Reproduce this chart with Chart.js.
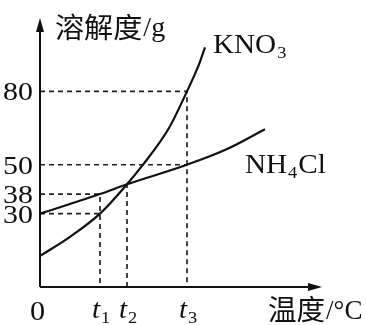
<!DOCTYPE html>
<html>
<head>
<meta charset="utf-8">
<script src="https://cdn.jsdelivr.net/npm/chart.js@4.4.0/dist/chart.umd.min.js"></script>
<style>
  html, body { margin: 0; padding: 0; background: #fff; }
  #wrap { width: 366px; height: 325px; position: relative; }
</style>
</head>
<body>
<div id="wrap"><canvas id="solChart"></canvas></div>
<script>
// temperature ticks (x) and their labels
const tempTicks = [0, 20, 29, 49];
const tempLabels = ['0', 't1', 't2', 't3'];
// solubility ticks (y)
const solTicks = [30, 38, 50, 80];

// KNO3 curve
const kno3Temp = [0, 10, 20, 29, 34, 43, 49, 53, 55];
const kno3Sol = [12.7, 20.5, 30, 42, 49.5, 65, 80, 91, 98];

// NH4Cl curve
const nh4clTemp = [0, 20, 29, 49, 62, 75];
const nh4clSol = [30, 38, 42, 50, 56.2, 64.5];

// where the two curves cross at t2
const crossSol = 42;

const toPts = (xs, ys) => xs.map((x, i) => ({ x: x, y: ys[i] }));

const t1 = tempTicks[1], t2 = tempTicks[2], t3 = tempTicks[3];

// dashed guide lines
const guides = [
    [{ x: 0, y: solTicks[3] }, { x: t3, y: solTicks[3] }, { x: t3, y: 0 }],
    [{ x: 0, y: solTicks[2] }, { x: t3, y: solTicks[2] }],
    [{ x: 0, y: solTicks[1] }, { x: t1, y: solTicks[1] }, { x: t1, y: 0 }],
    [{ x: 0, y: solTicks[0] }, { x: t1, y: solTicks[0] }],
    [{ x: t2, y: 0 }, { x: t2, y: crossSol }]
];

const SERIF = '"Liberation Serif", "Times New Roman", serif';
const CJK = '"Noto Sans CJK SC", sans-serif';

// text stretched a little sideways, like the scanned figure
function wideText(ctx, txt, x, y, sx) {
    ctx.save();
    ctx.translate(x, y);
    ctx.scale(sx, 1);
    ctx.fillText(txt, 0, 0);
    ctx.restore();
    return ctx.measureText(txt).width * sx;
}

function subText(ctx, x, base, main, sub, size, italic) {
    ctx.font = (italic ? 'italic ' : '') + size + 'px ' + SERIF;
    const w = wideText(ctx, main, x, base, 1.08);
    ctx.font = Math.round(size * 0.62) + 'px ' + SERIF;
    return x + w + 1 + wideText(ctx, sub, x + w + 1, base + size * 0.18, 1.08);
}

// axes with arrows and all the text
const decor = {
    id: 'decor',
    afterDraw(chart) {
        const ctx = chart.ctx;
        const xs = chart.scales.x, ys = chart.scales.y;
        const x0 = xs.getPixelForValue(0), y0 = ys.getPixelForValue(0);
        const top = chart.chartArea.top, right = chart.chartArea.right;
        ctx.save();
        ctx.strokeStyle = '#111';
        ctx.fillStyle = '#111';
        ctx.lineWidth = 2;
        ctx.beginPath();
        ctx.moveTo(x0, y0); ctx.lineTo(x0, top + 6);
        ctx.moveTo(x0, y0); ctx.lineTo(right - 6, y0);
        ctx.stroke();
        ctx.beginPath();
        ctx.moveTo(x0, top); ctx.lineTo(x0 - 4, top + 14); ctx.lineTo(x0 + 4, top + 14);
        ctx.closePath(); ctx.fill();
        ctx.beginPath();
        ctx.moveTo(right, y0); ctx.lineTo(right - 14, y0 - 4); ctx.lineTo(right - 14, y0 + 4);
        ctx.closePath(); ctx.fill();

        // y tick labels
        ctx.font = '26px ' + SERIF;
        ctx.textAlign = 'left';
        ctx.textBaseline = 'alphabetic';
        solTicks.forEach(v => wideText(ctx, String(v), 3, ys.getPixelForValue(v) + 9, 1.15));

        // x tick labels
        tempTicks.forEach((v, i) => {
            const px = xs.getPixelForValue(v);
            const lab = tempLabels[i];
            if (lab.length === 1) {
                ctx.font = '27px ' + SERIF;
                wideText(ctx, lab, px - 10, 320, 1.12);
            } else {
                subText(ctx, px - 8, 318, lab[0], lab.slice(1), 27, true);
            }
        });

        // axis titles
        ctx.font = '28px ' + CJK;
        ctx.textBaseline = 'middle';
        let w = wideText(ctx, '溶解度', 55, 27, 1.04);
        ctx.textBaseline = 'alphabetic';
        ctx.font = '28px ' + SERIF;
        ctx.fillText('/g', 55 + w + 1, 36);

        ctx.font = '28px ' + CJK;
        ctx.textBaseline = 'middle';
        w = wideText(ctx, '温度', 268, 309, 1.02);
        ctx.textBaseline = 'alphabetic';
        ctx.font = '27px ' + SERIF;
        ctx.fillText('/°C', 268 + w + 1, 319);

        // series names
        subText(ctx, 213, 53, 'KNO', '3', 27, false);
        const nx = subText(ctx, 245, 173, 'NH', '4', 27, false);
        ctx.font = '27px ' + SERIF;
        wideText(ctx, 'Cl', nx + 1, 173, 1.08);
        ctx.restore();
    }
};

const curveStyle = {
    showLine: true, pointRadius: 0, borderColor: '#111', borderWidth: 2.2,
    cubicInterpolationMode: 'monotone', fill: false
};

const datasets = [
    Object.assign({ label: 'KNO3', data: toPts(kno3Temp, kno3Sol) }, curveStyle),
    Object.assign({ label: 'NH4Cl', data: toPts(nh4clTemp, nh4clSol) }, curveStyle)
];
guides.forEach((g, i) => datasets.push({
    label: 'guide' + i, data: g, showLine: true, pointRadius: 0,
    borderColor: '#222', borderWidth: 1.7, borderDash: [5, 4], tension: 0
}));

new Chart(document.getElementById('solChart'), {
    type: 'scatter',
    data: { datasets: datasets },
    options: {
        responsive: true,
        maintainAspectRatio: false,
        animation: false,
        layout: { padding: { left: 40, right: 44, top: 18, bottom: 38 } },
        plugins: { legend: { display: false }, tooltip: { enabled: false } },
        scales: {
            x: { type: 'linear', display: false, min: 0, max: 94 },
            y: { type: 'linear', display: false, min: 0, max: 110 }
        }
    },
    plugins: [decor]
});
</script>
</body>
</html>
